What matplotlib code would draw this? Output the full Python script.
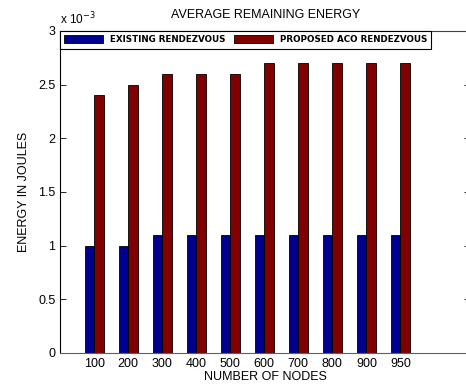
import numpy as np
import matplotlib
matplotlib.use("Agg")
import matplotlib.pyplot as plt

# node counts and average remaining energy (x 10^-3 J)
nodes = ["100", "200", "300", "400", "500", "600", "700", "800", "900", "950"]
existing = [1.0, 1.0, 1.1, 1.1, 1.1, 1.1, 1.1, 1.1, 1.1, 1.1]
proposed = [2.4, 2.5, 2.6, 2.6, 2.6, 2.7, 2.7, 2.7, 2.7, 2.7]

plt.rcParams["font.family"] = ["Liberation Sans", "DejaVu Sans"]

fig = plt.figure(figsize=(4.66, 3.87), dpi=100)
ax = fig.add_axes([0.129, 0.088, 0.88, 0.832])

x = np.arange(1, len(nodes) + 1)
w = 0.28
ax.bar(x - w / 2, existing, w, color="#00008f", edgecolor="black", linewidth=0.6,
       label="EXISTING RENDEZVOUS")
ax.bar(x + w / 2, proposed, w, color="#800000", edgecolor="black", linewidth=0.6,
       label="PROPOSED ACO RENDEZVOUS")

ax.set_xlim(0.0, 12.05)
ax.set_ylim(0, 3)
ax.set_xticks(x)
ax.set_xticklabels(nodes)
ax.set_yticks(np.arange(0, 3.01, 0.5))
ax.set_yticklabels(["0", "0.5", "1", "1.5", "2", "2.5", "3"])
ax.tick_params(direction="in", length=4, labelsize=9, width=0.6,
               right=True, top=False)
for s in ax.spines.values():
    s.set_linewidth(0.8)
ax.spines["bottom"].set_color("#606060")
ax.spines["top"].set_color("#404040")

ax.text(0.0, 1.012, r"x 10$^{-3}$", transform=ax.transAxes, fontsize=8.5,
        ha="left", va="bottom")
ax.set_title("AVERAGE REMAINING ENERGY", fontsize=9, pad=9)
ax.set_xlabel("NUMBER OF NODES", fontsize=9, labelpad=1)
ax.set_ylabel("ENERGY IN JOULES", fontsize=9, labelpad=6)

leg = ax.legend(loc="upper left", bbox_to_anchor=(0, 1), borderaxespad=0,
                ncol=2, prop={"weight": "bold", "size": 6.3, "family": "DejaVu Sans"},
                handlelength=4.4, handleheight=1.0, columnspacing=1.0,
                handletextpad=0.8, fancybox=False, framealpha=1,
                borderpad=0.5)
leg.get_frame().set_edgecolor("black")
leg.get_frame().set_linewidth(0.8)
for t in leg.get_texts():
    t.set_fontstretch("expanded")

fig.savefig("out.png", dpi=100)
